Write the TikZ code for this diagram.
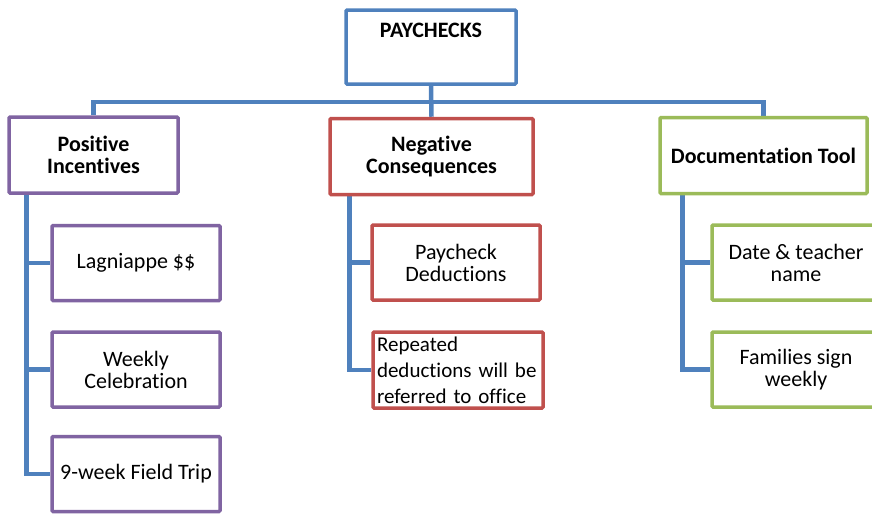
\documentclass[tikz,border=0pt]{standalone}
\usepackage{fontspec}
\setmainfont{Carlito}[Ligatures=NoCommon]
\usetikzlibrary{positioning, backgrounds}
\definecolor{chartblue}{RGB}{79,129,189}
\definecolor{chartpurple}{RGB}{128,100,162}
\definecolor{chartred}{RGB}{192,80,77}
\definecolor{chartgreen}{RGB}{155,187,89}

\tikzset{
    card/.style={draw, line width=3.5pt, fill=white, rounded corners=1pt,
                 align=center, inner sep=0pt},
    headcard/.style={card, minimum height=76pt,
                     font=\fontsize{22}{22}\selectfont\bfseries},
    itemcard/.style={card, minimum width=168pt, minimum height=75pt,
                     font=\fontsize{22}{22}\selectfont},
    link/.style={draw=chartblue, line width=4.5pt},
}

\begin{document}
\begin{tikzpicture}[x=1pt, y=-1pt]
        \useasboundingbox (0,0) rectangle (872,514);

        % top of the chart
        \node[card, draw=chartblue, minimum width=170pt, minimum height=74pt] (root) at (431,47) {};
        \node[below=11pt, font=\fontsize{22}{22}\selectfont\bfseries] (roottext) at (root.north) {PAYCHECKS};

        % the three branches
        \node[headcard, draw=chartpurple, minimum width=169pt] (pos) at (93.5,155) {Positive\\Incentives};
        \node[headcard, draw=chartred, minimum width=203pt] (neg) at (431.5,156.5) {Negative\\Consequences};
        \node[headcard, draw=chartgreen, minimum width=207pt] (doc) at (763.5,155.5) {Documentation Tool};

        % positive incentives
        \node[itemcard, draw=chartpurple] (lag) at (136,263) {Lagniappe \$\$};
        \node[itemcard, draw=chartpurple] (week) at (136,369.5) {Weekly\\Celebration};
        \node[itemcard, draw=chartpurple] (trip) at (136,474) {9-week Field Trip};

        % negative consequences
        \node[itemcard, draw=chartred] (ded) at (456,262.5) {Paycheck\\Deductions};
        \node[card, draw=chartred, minimum height=76pt, text width=162pt, align=left,
              inner xsep=4pt, font=\fontsize{21}{26}\selectfont] (rep) at (458,370)
              {Repeated\\deductions will be\\referred to office};

        % documentation tool
        \node[itemcard, draw=chartgreen] (date) at (796,262.5) {Date \& teacher\\name};
        \node[itemcard, draw=chartgreen] (fam) at (796,369.5) {Families sign\\weekly};

        \coordinate (bus) at (431,102);
        \coordinate (posstem) at ([xshift=19pt]pos.south west);
        \coordinate (negstem) at ([xshift=21pt]neg.south west);
        \coordinate (docstem) at ([xshift=24pt]doc.south west);

        \begin{scope}[on background layer]
            \draw[link] (root.south) -- (neg.north);
            \draw[link] (pos.north) |- (bus) -| (doc.north);
            \draw[link] (posstem) |- (trip.west);
            \draw[link] (posstem) |- (lag.west);
            \draw[link] (posstem) |- (week.west);
            \draw[link] (negstem) |- (rep.west);
            \draw[link] (negstem) |- (ded.west);
            \draw[link] (docstem) |- (fam.west);
            \draw[link] (docstem) |- (date.west);
        \end{scope}
    \end{tikzpicture}
\end{document}
